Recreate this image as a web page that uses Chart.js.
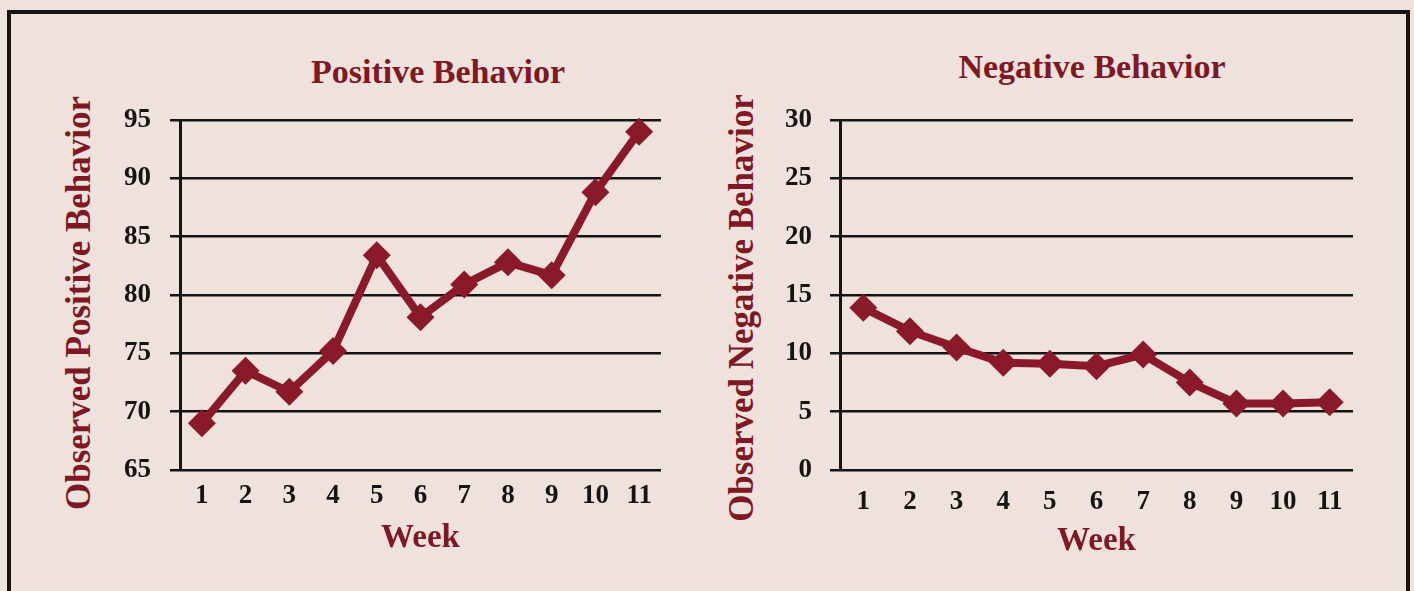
<!DOCTYPE html>
<html lang="en">
<head>
  <meta charset="UTF-8" />
  <title>Observed Behavior by Week</title>
  <script src="https://cdn.jsdelivr.net/npm/chart.js"></script>
  <style>
    body { margin: 0; background: #efe1dc; }
    #pagina { position: relative; width: 1414px; height: 591px; overflow: hidden; background: #efe1dc; }
    .moldura { position: absolute; left: 7px; top: 10px; width: 1403px; height: 620px; border: 4px solid #141414; box-sizing: border-box; }
    .titulo { position: absolute; font: bold 34px "Liberation Serif", serif; line-height: 1; color: #7e1824; white-space: nowrap; transform: translateX(-50%); }
    .tituloY { position: absolute; font: bold 35px "Liberation Serif", serif; line-height: 1; color: #7e1824; white-space: nowrap; transform: translate(-50%, -50%) rotate(-90deg); }
    canvas { position: absolute; top: 0; }
  </style>
</head>

<body>
  <div id="pagina">
    <div class="moldura"></div>
    <div class="titulo" style="left:438px; top:55px;">Positive Behavior</div>
    <div class="titulo" style="left:1092px; top:50px;">Negative Behavior</div>
    <div class="tituloY" style="left:78px; top:303px;">Observed Positive Behavior</div>
    <div class="tituloY" style="left:741px; top:308px;">Observed Negative Behavior</div>
    <canvas id="graficoPositivo" width="700" height="591" style="left:0px"></canvas>
    <canvas id="graficoNegativo" width="714" height="591" style="left:700px"></canvas>
  </div>

<script>
  const semanas = ["1", "2", "3", "4", "5", "6", "7", "8", "9", "10", "11"];
  const positivo = [69.0, 73.5, 71.7, 75.2, 83.4, 78.1, 80.9, 82.8, 81.7, 88.8, 94.0];
  const negativo = [13.9, 11.9, 10.5, 9.2, 9.1, 8.9, 9.9, 7.5, 5.7, 5.7, 5.8];
  const ticksPositivo = [65, 70, 75, 80, 85, 90, 95];
  const ticksNegativo = [0, 5, 10, 15, 20, 25, 30];

  const vinho = "#8a1a2a";
  const fonte = "'Liberation Serif', serif";

  // op: larguraY, direita, padX, padWeek, padY
  function montarGrafico(id, valores, ticksY, op) {
    return new Chart(document.getElementById(id), {
      type: 'line',
      data: {
        labels: semanas,
        datasets: [{
          data: valores,
          borderColor: vinho,
          backgroundColor: vinho,
          borderWidth: 8,
          pointStyle: 'rectRot',
          pointRadius: 14,
          pointBorderWidth: 0,
          tension: 0,
          clip: false
        }]
      },
      options: {
        responsive: false,
        animation: false,
        layout: { padding: { top: 120, right: op.direita, left: 0, bottom: 0 } },
        plugins: { legend: { display: false }, tooltip: { enabled: false } },
        scales: {
          x: {
            offset: true,
            grid: { display: false, drawTicks: false },
            border: { display: false },
            ticks: {
              color: '#141414',
              padding: op.padX,
              autoSkip: false,
              maxRotation: 0,
              font: { family: fonte, size: 27, weight: 'bold' }
            },
            title: {
              display: true,
              text: 'Week',
              color: '#7e1824',
              font: { family: fonte, size: 33, weight: 'bold' },
              padding: { top: 0, bottom: op.padWeek }
            },
            afterFit: s => { s.height = 121; }
          },
          y: {
            min: ticksY[0],
            max: ticksY[ticksY.length - 1],
            afterBuildTicks: s => { s.ticks = ticksY.map(v => ({ value: v })); },
            grid: { color: '#141414', lineWidth: 2.5, tickLength: 10 },
            border: { color: '#141414', width: 3 },
            ticks: {
              color: '#141414',
              padding: op.padY,
              font: { family: fonte, size: 27, weight: 'bold' }
            },
            afterFit: s => { s.width = op.larguraY; }
          }
        }
      }
    });
  }

  montarGrafico('graficoPositivo', positivo, ticksPositivo, { larguraY: 180, direita: 39, padX: 10, padWeek: 33, padY: 19 });
  montarGrafico('graficoNegativo', negativo, ticksNegativo, { larguraY: 140, direita: 61, padX: 16, padWeek: 30, padY: 18 });
</script>
</body>

</html>
